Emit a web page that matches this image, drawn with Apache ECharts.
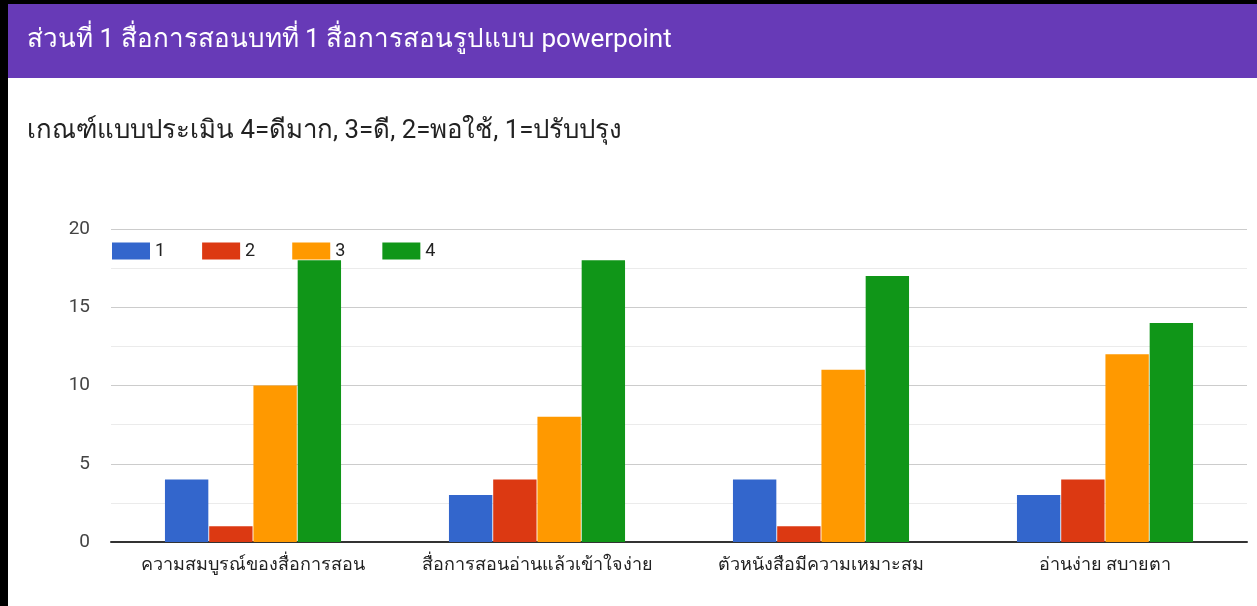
<!DOCTYPE html>
<html>
<head>
<meta charset="utf-8">
<script src="https://cdn.jsdelivr.net/npm/echarts@6/dist/echarts.min.js"></script>
<style>
  html, body { margin: 0; padding: 0; background: #fff; }
  #chart { width: 1257px; height: 606px; }
</style>
</head>
<body>
<div id="chart"></div>
<script>
// หมวดหมู่และค่าของแต่ละระดับคะแนน
const categories = ['ความสมบูรณ์ของสื่อการสอน', 'สื่อการสอนอ่านแล้วเข้าใจง่าย', 'ตัวหนังสือมีความเหมาะสม', 'อ่านง่าย สบายตา'];
const seriesNames = ['1', '2', '3', '4'];
const score1 = [4, 3, 4, 3];
const score2 = [1, 4, 1, 4];
const score3 = [10, 8, 11, 12];
const score4 = [18, 18, 17, 14];
const colors = ['#3366cc', '#dc3912', '#ff9900', '#109618'];

const chart = echarts.init(document.getElementById('chart'));
const font = 'Roboto, Arial, sans-serif';

const option = {
  color: colors,
  animation: false,
  title: [
    {
      text: 'ส่วนที่ 1 สื่อการสอนบทที่ 1 สื่อการสอนรูปแบบ powerpoint',
      left: 27, top: 27, padding: 0,
      textStyle: { color: '#fff', fontSize: 26, fontWeight: 'normal', fontFamily: font }
    },
    {
      text: 'เกณฑ์แบบประเมิน 4=ดีมาก, 3=ดี, 2=พอใช้, 1=ปรับปรุง',
      left: 27, top: 119, padding: 0,
      textStyle: { color: '#222', fontSize: 25.8, fontWeight: 'normal', fontFamily: font }
    }
  ],
  graphic: [
    { type: 'rect', z: -10, shape: { x: 0, y: 0, width: 1257, height: 4 }, style: { fill: '#000' } },
    { type: 'rect', z: -10, shape: { x: 0, y: 0, width: 8, height: 606 }, style: { fill: '#000' } },
    { type: 'rect', z: -10, shape: { x: 8, y: 4, width: 1249, height: 74 }, style: { fill: '#673ab7' } }
  ],
  legend: {
    left: 112, top: 242, padding: 0,
    icon: 'rect',
    itemWidth: 38, itemHeight: 17, itemGap: 37,
    textStyle: { color: '#222', fontSize: 18, fontFamily: font },
    data: seriesNames
  },
  grid: { left: 111, right: 10, top: 229, bottom: 64 },
  xAxis: {
    type: 'category',
    data: categories,
    axisTick: { show: false },
    axisLine: { lineStyle: { color: '#333', width: 2 } },
    axisLabel: { interval: 0, color: '#222', fontSize: 18, margin: 14, fontFamily: font }
  },
  yAxis: {
    type: 'value',
    min: 0, max: 20, interval: 5,
    axisLabel: { color: '#444', fontSize: 19, margin: 21, fontFamily: font },
    splitLine: { lineStyle: { color: '#ccc', width: 1 } },
    minorTick: { show: false, splitNumber: 2 },
    minorSplitLine: { show: true, lineStyle: { color: '#ebebeb' } }
  },
  series: [score1, score2, score3, score4].map((d, i) => ({
    name: seriesNames[i],
    type: 'bar',
    data: d,
    barGap: '2%',
    barCategoryGap: '38%'
  }))
};

chart.setOption(option);
</script>
</body>
</html>
